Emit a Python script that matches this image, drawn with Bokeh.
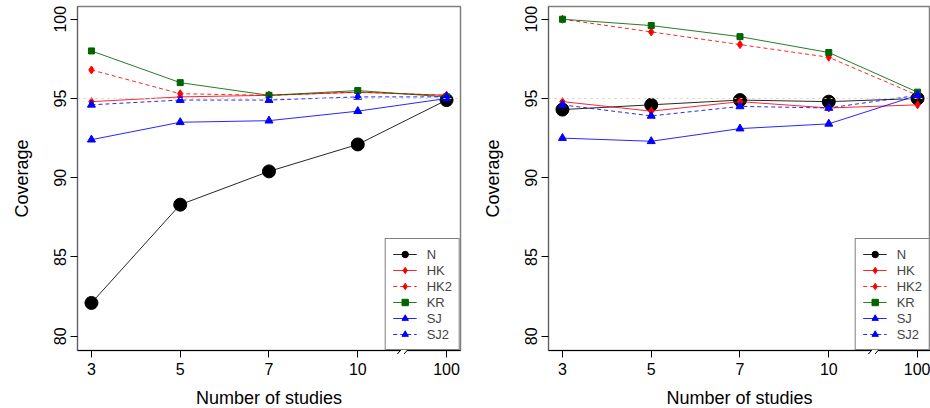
from bokeh.plotting import figure
from bokeh.layouts import row
from bokeh.models import Span, Legend, LegendItem, ColumnDataSource
from bokeh.embed import file_html
from bokeh.resources import INLINE

# ---- data ----
tick_labels = ["3", "5", "7", "10", "100"]
series_names = ["N", "HK", "HK2", "KR", "SJ", "SJ2"]

left_N = [82.1, 88.3, 90.4, 92.1, 94.9]
left_HK = [94.8, 95.1, 95.2, 95.4, 95.2]
left_HK2 = [96.8, 95.3, 95.2, 95.4, 95.2]
left_KR = [98.0, 96.0, 95.2, 95.5, 95.1]
left_SJ = [92.4, 93.5, 93.6, 94.2, 95.0]
left_SJ2 = [94.6, 94.9, 94.9, 95.1, 95.1]

right_N = [94.3, 94.6, 94.9, 94.8, 95.0]
right_HK = [94.8, 94.2, 94.8, 94.4, 94.6]
right_HK2 = [100.0, 99.2, 98.4, 97.6, 95.2]
right_KR = [100.0, 99.6, 98.9, 97.9, 95.4]
right_SJ = [92.5, 92.3, 93.1, 93.4, 95.2]
right_SJ2 = [94.6, 93.9, 94.5, 94.4, 95.2]

nominal = 95

FONT = "Liberation Sans"
x_pos = list(range(1, len(tick_labels) + 1))

styles = {
    "N":   dict(color="black",   dash="solid",  marker="circle",   size=13),
    "HK":  dict(color="#FF0000", dash="solid",  marker="diamond",  size=8),
    "HK2": dict(color="#FF0000", dash="4 3",    marker="diamond",  size=8),
    "KR":  dict(color="#006400", dash="solid",  marker="square",   size=6),
    "SJ":  dict(color="#0000FF", dash="solid",  marker="triangle", size=8),
    "SJ2": dict(color="#0000FF", dash="4 3",    marker="triangle", size=8),
}

PXX = 88.78   # px per x unit
PXY = 15.85   # px per y unit
Y0 = 79.1
FH = 344


def make_panel(data, fw, border_right, border_left):
    x_end = 0.843 + fw / PXX
    p = figure(width=10, height=10, frame_width=fw, frame_height=FH,
               x_range=(0.843, x_end), y_range=(Y0, Y0 + FH / PXY),
               output_backend="svg", toolbar_location=None,
               min_border_left=border_left, min_border_right=border_right,
               min_border_top=6, min_border_bottom=53)
    p.grid.visible = False
    p.outline_line_color = "#808080"
    p.outline_line_width = 1.5
    p.background_fill_color = "white"
    p.border_fill_color = "white"

    p.add_layout(Span(location=nominal, dimension="width", line_color="#cfcfcf",
                      line_dash="dotted", line_width=1))

    items = []
    for name in series_names:
        st = styles[name]
        src = ColumnDataSource(dict(x=x_pos, y=data[name]))
        lr = p.line("x", "y", source=src, line_color=st["color"], line_width=1,
                    line_dash=st["dash"], line_alpha=0.85)
        sr = p.scatter("x", "y", source=src, marker=st["marker"], size=st["size"],
                       fill_color=st["color"], line_color=st["color"])
        items.append(LegendItem(label=name, renderers=[lr, sr]))

    leg = Legend(items=items, location="bottom_right", margin=0,
                 border_line_color="black", border_line_width=1,
                 background_fill_color="white", background_fill_alpha=1,
                 glyph_width=24, glyph_height=16, label_height=16, spacing=0,
                 padding=7, label_standoff=10,
                 label_text_font=FONT, label_text_font_size="13px")
    p.add_layout(leg)

    # axis break marks (glyphs on the overlay level, above the legend)
    dy = 3.5 / PXY
    dx = 3.0 / PXX
    xa, xb = 4.48, 4.555
    p.quad(left=[xa], right=[xb], bottom=[Y0 - dy], top=[Y0 + 0.6 / PXY],
           fill_color="white", line_alpha=0, level="overlay")
    p.segment(x0=[xa - dx, xb - dx], y0=[Y0 - dy, Y0 - dy],
              x1=[xa + dx, xb + dx], y1=[Y0 + dy, Y0 + dy],
              line_color="black", line_width=1, level="overlay")

    p.xaxis.ticker = x_pos
    p.xaxis.major_label_overrides = {i: t for i, t in zip(x_pos, tick_labels)}
    p.yaxis.ticker = [80, 85, 90, 95, 100]
    p.yaxis.major_label_orientation = "vertical"

    for ax in (p.xaxis[0], p.yaxis[0]):
        ax.major_label_text_font = FONT
        ax.major_label_text_font_size = "16px"
        ax.major_label_text_color = "black"
        ax.axis_label_text_font = FONT
        ax.axis_label_text_font_size = "18px"
        ax.axis_label_text_font_style = "normal"
        ax.axis_label_text_color = "black"
        ax.major_tick_out = 7
        ax.major_tick_in = 0
        ax.minor_tick_out = 0
        ax.minor_tick_in = 0
        ax.major_tick_line_color = "black"
    p.xaxis.axis_label = "Number of studies"
    p.yaxis.axis_label = "Coverage"
    p.xaxis.axis_line_color = "black"
    p.yaxis.axis_line_color = "#606060"
    p.xaxis.major_label_standoff = 5
    p.yaxis.major_label_standoff = 4
    p.xaxis.axis_label_standoff = 10
    p.yaxis.axis_label_standoff = 20
    return p


left = dict(N=left_N, HK=left_HK, HK2=left_HK2, KR=left_KR, SJ=left_SJ, SJ2=left_SJ2)
right = dict(N=right_N, HK=right_HK, HK2=right_HK2, KR=right_KR, SJ=right_SJ, SJ2=right_SJ2)

p1 = make_panel(left, 383, 18, 77)
p2 = make_panel(right, 382, 0, 70)

layout = row(p1, p2)
open("out.html", "w").write(file_html(layout, INLINE))
